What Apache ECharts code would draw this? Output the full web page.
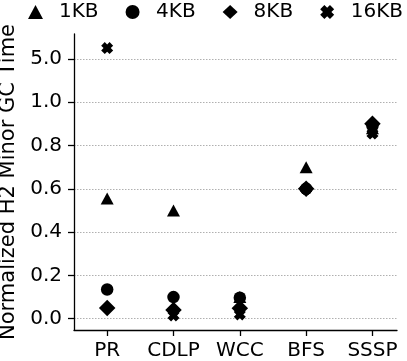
<!DOCTYPE html>
<html>
<head>
<meta charset="utf-8">
<script src="https://cdn.jsdelivr.net/npm/echarts@6/dist/echarts.min.js"></script>
<style>html,body{margin:0;padding:0;background:#fff}#chart{width:407px;height:361px}</style>
</head>
<body>
<div id="chart"></div>
<script>
var categories = ['PR', 'CDLP', 'WCC', 'BFS', 'SSSP'];
var sizes = ['1KB', '4KB', '8KB', '16KB'];
var v1KB = [0.555, 0.50, 0.10, 0.70, 0.88];
var v4KB = [0.135, 0.10, 0.097, 0.60, 0.89];
var v8KB = [0.05, 0.04, 0.048, 0.60, 0.90];
var v16KB = [5.25, 0.015, 0.02, 0.60, 0.855];
var yTicks = [0, 0.2, 0.4, 0.6, 0.8, 1.0, 5.0];

// broken axis: 1.0 -> 5.0 squeezed into one tick step
function toAxis(v) {
	return v > 1 ? 1.2 + (v - 5) * 0.2 : v;
}
function fromAxis(p) {
	return p > 1.1 ? 5 + (p - 1.2) / 0.2 : p;
}

var xMark = 'path://M0,3 L3,0 L5,2 L7,0 L10,3 L8,5 L10,7 L7,10 L5,8 L3,10 L0,7 L2,5 Z';
var symbols = ['triangle', 'circle', 'diamond', xMark];
var symSizes = [[13, 12], 12.5, [16.5, 16.5], 12];
var allVals = [v1KB, v4KB, v8KB, v16KB];

var chart = echarts.init(document.getElementById('chart'));
var series = sizes.map(function (name, i) {
	return {
		name: name,
		type: 'scatter',
		symbol: symbols[i],
		symbolSize: symSizes[i],
		itemStyle: {color: '#000', opacity: 1},
		data: allVals[i].map(function (v, j) { return [j, toAxis(v)]; })
	};
});

chart.setOption({
	animation: false,
	legend: {
		top: -3,
		left: 23,
		width: 400,
		itemGap: 27,
		itemWidth: 15,
		itemHeight: 14,
		textStyle: {fontFamily: 'DejaVu Sans', fontSize: 20, color: '#000', padding: [0, 0, 0, 11]},
		data: sizes.map(function (s, i) { return {name: s, icon: symbols[i], itemStyle: {color: '#000', opacity: 1}}; })
	},
	grid: {left: 74, right: 10, top: 34, bottom: 31, outerBoundsMode: 'none', containLabel: false},
	xAxis: {
		type: 'value',
		min: -0.5,
		max: 4.37,
		axisLine: {onZero: false, lineStyle: {color: '#000', width: 1.3}},
		axisTick: {customValues: [0, 1, 2, 3, 4], length: 6, lineStyle: {color: '#000', width: 1.3}},
		axisLabel: {
			customValues: [0, 1, 2, 3, 4],
			formatter: function (v) { return categories[v]; },
			fontFamily: 'DejaVu Sans', fontSize: 20, color: '#000', margin: 11
		},
		splitLine: {show: false}
	},
	yAxis: {
		type: 'value',
		min: -0.052,
		max: 1.315,
		name: 'Normalized H2 Minor GC Time',
		nameLocation: 'middle',
		nameGap: 55,
		nameTextStyle: {fontFamily: 'DejaVu Sans', fontSize: 21, color: '#000'},
		axisLine: {show: true, onZero: false, lineStyle: {color: '#000', width: 1.3}},
		axisTick: {show: true, customValues: yTicks.map(toAxis), length: 6, lineStyle: {color: '#000', width: 1.3}},
		axisLabel: {
			customValues: yTicks.map(toAxis),
			formatter: function (v) { return fromAxis(v).toFixed(1); },
			fontFamily: 'DejaVu Sans', fontSize: 20, color: '#000', margin: 12
		},
		splitLine: {show: true, lineStyle: {color: '#b0b0b0', type: [1.5, 1.5], width: 1}}
	},
	series: series
});
</script>
</body>
</html>
